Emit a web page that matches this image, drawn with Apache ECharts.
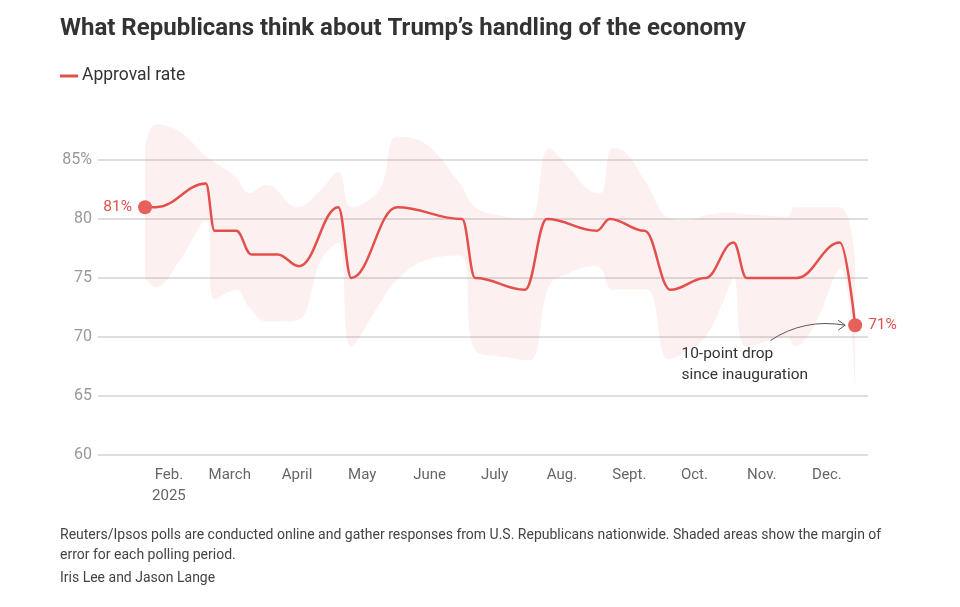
<!DOCTYPE html>
<html>
<head>
<meta charset="utf-8">
<title>Republicans on Trump's handling of the economy</title>
<script src="https://cdn.jsdelivr.net/npm/echarts@6/dist/echarts.min.js"></script>
<style>
  html, body { margin: 0; padding: 0; background: #ffffff; }
  #chart { width: 960px; height: 607px; }
</style>
</head>
<body>
<div id="chart"></div>
<script>
// approval rate, one value per poll
const pollDates = ['2025-01-21', '2025-01-26', '2025-02-18', '2025-02-22', '2025-03-04', '2025-03-11',
  '2025-03-23', '2025-04-02', '2025-04-20', '2025-04-26', '2025-05-17', '2025-06-16',
  '2025-06-22', '2025-07-15', '2025-07-25', '2025-08-17', '2025-08-23', '2025-09-08', '2025-09-20',
  '2025-10-06', '2025-10-19', '2025-10-25', '2025-11-17', '2025-12-07', '2025-12-14']
const approval = [81, 81, 83, 79, 79, 77, 77, 76, 81, 75, 81, 80, 75, 74, 80, 79, 80, 79, 74, 75, 78, 75, 75, 78, 71]

// margin of error band (upper / lower edge)
const bandDates = ['2025-01-21', '2025-01-26', '2025-02-06', '2025-02-18', '2025-02-22', '2025-03-04',
  '2025-03-10', '2025-03-18', '2025-04-01', '2025-04-12', '2025-04-20', '2025-04-26', '2025-05-09',
  '2025-05-17', '2025-05-30', '2025-06-15', '2025-06-22', '2025-07-06', '2025-07-17', '2025-07-26',
  '2025-08-04', '2025-08-15', '2025-08-19', '2025-08-24', '2025-08-29', '2025-09-09', '2025-09-19',
  '2025-09-28', '2025-10-06', '2025-10-14', '2025-10-19', '2025-10-25', '2025-11-13', '2025-11-16',
  '2025-11-25', '2025-12-07', '2025-12-14']
const bandUpper = [86, 88, 87.4, 85.3, 84.8, 83.5, 82.2, 82.9, 81, 82.5, 84, 81, 82.5, 87, 86.4, 83, 81,
  80.2, 80, 86, 84.4, 82.3, 82.2, 86, 85.8, 83, 80.1, 79.9, 80.3, 80.5, 80.5, 80.4, 80.2, 81, 81, 81, 76.6]
const bandLower = [75, 74.2, 76.5, 79.9, 73.2, 74, 72.5, 71.3, 71.4, 76.5, 78, 69.2, 72.8, 74.8, 76.5,
  76.9, 68.9, 68.3, 68, 74.3, 75.4, 76, 75.8, 74, 74, 74, 68.1, 68.9, 70, 72.9, 75, 69.2, 70, 69.2, 70.9,
  75.8, 65.4]

const monthLabels = ['', 'Feb.\n2025', 'March', 'April', 'May', 'June', 'July', 'Aug.', 'Sept.', 'Oct.', 'Nov.', 'Dec.']
const yTicks = [60, 65, 70, 75, 80, 85]

const RED = '#e3504b'
const FONT = 'Roboto, "Noto Sans", sans-serif'

const chart = echarts.init(document.getElementById('chart'))

const lowerData = bandDates.map((d, i) => [d, bandLower[i]])
const spanData = bandDates.map((d, i) => [d, +(bandUpper[i] - bandLower[i]).toFixed(2)])
const lineData = pollDates.map((d, i) => [d, approval[i]])
const last = lineData.length - 1

chart.setOption({
  animation: false,
  textStyle: { fontFamily: FONT },
  title: {
    text: 'What Republicans think about Trump\u2019s handling of the economy',
    left: 60,
    top: 17,
    padding: 0,
    textStyle: { fontSize: 24, fontWeight: 'bold', color: '#333333', fontFamily: FONT },
  },
  legend: {
    data: ['Approval rate'],
    left: 60,
    top: 67,
    padding: 0,
    icon: 'rect',
    itemWidth: 18,
    itemHeight: 3,
    itemGap: 6,
    textStyle: { fontSize: 17.5, color: '#333333', fontFamily: FONT, padding: [0, 0, 0, -1] },
  },
  grid: { left: 98, right: 92, top: 160, bottom: 152 },
  xAxis: {
    type: 'time',
    min: +new Date(2024, 11, 30, 8),
    max: +new Date(2025, 11, 19, 22),
    splitNumber: 12,
    minInterval: 28 * 86400000,
    axisLine: { show: false },
    axisTick: { show: false },
    splitLine: { show: false },
    axisLabel: {
      show: true,
      margin: 10,
      color: '#666666',
      fontSize: 15,
      lineHeight: 21,
      verticalAlign: 'top',
      showMinLabel: false,
      showMaxLabel: false,
      formatter: function (value) {
        const d = new Date(value)
        if (d.getDate() !== 1 || d.getFullYear() !== 2025) return ''
        return monthLabels[d.getMonth()]
      },
    },
  },
  yAxis: {
    type: 'value',
    min: yTicks[0],
    max: yTicks[yTicks.length - 1],
    interval: 5,
    axisLine: { show: false },
    axisTick: { show: false },
    axisLabel: {
      color: '#999999',
      fontSize: 16,
      margin: 6,
      formatter: (v) => (v === 85 ? v + '%' : String(v)),
    },
    splitLine: { lineStyle: { color: '#d3d3d3', width: 1.5 } },
  },
  series: [
    {
      name: 'lower',
      type: 'line',
      stack: 'band',
      data: lowerData,
      smooth: 0.4,
      symbol: 'none',
      lineStyle: { opacity: 0 },
      clip: false,
      silent: true,
      z: 1,
    },
    {
      name: 'margin',
      type: 'line',
      stack: 'band',
      data: spanData,
      smooth: 0.4,
      symbol: 'none',
      lineStyle: { opacity: 0 },
      areaStyle: { color: 'rgba(232, 90, 84, 0.13)' },
      clip: false,
      silent: true,
      z: 1,
    },
    {
      name: 'Approval rate',
      type: 'line',
      data: lineData,
      smooth: 0.4,
      smoothMonotone: 'x',
      symbol: 'none',
      color: RED,
      lineStyle: { color: RED, width: 2.5 },
      z: 3,
    },
    {
      name: 'ends',
      type: 'scatter',
      data: [
        { value: lineData[0], label: { position: 'left' } },
        { value: lineData[last], label: { position: 'right' } },
      ],
      symbolSize: 14,
      itemStyle: { color: '#e8605b', opacity: 1 },
      label: {
        show: true,
        distance: 6,
        color: RED,
        fontSize: 15.5,
        formatter: (p) => p.value[1] + '%',
      },
      z: 4,
    },
  ],
})

// annotation, anchored to data coordinates
const px = (d, v) => chart.convertToPixel({ gridIndex: 0 }, [d, v])
const textPos = px('2025-09-25', 69.4)
const arrowStart = px('2025-11-05', 69.7)
const arrowEnd = px(pollDates[last], approval[last])
const tip = [arrowEnd[0] - 10, arrowEnd[1]]
const ctrl = [(arrowStart[0] + tip[0]) / 2 - 4, tip[1] - 7]

chart.setOption({
  graphic: [
    {
      type: 'text',
      left: textPos[0],
      top: textPos[1],
      style: {
        text: '10-point drop\nsince inauguration',
        fill: '#333333',
        font: '15.5px ' + FONT,
        lineHeight: 21,
      },
    },
    {
      type: 'bezierCurve',
      shape: { x1: arrowStart[0], y1: arrowStart[1], cpx1: ctrl[0], cpy1: ctrl[1], x2: tip[0], y2: tip[1] },
      style: { stroke: '#555555', lineWidth: 1, fill: null },
    },
    {
      type: 'polyline',
      shape: { points: [[tip[0] - 7, tip[1] - 5], tip, [tip[0] - 7, tip[1] + 5]] },
      style: { stroke: '#555555', lineWidth: 1, fill: null },
    },
    {
      type: 'text',
      left: 60,
      top: 525,
      style: {
        text: 'Reuters/Ipsos polls are conducted online and gather responses from U.S. Republicans nationwide. Shaded areas show the margin of\nerror for each polling period.',
        fill: '#444444',
        font: '14px ' + FONT,
        lineHeight: 20,
      },
    },
    {
      type: 'text',
      left: 60,
      top: 571,
      style: { text: 'Iris Lee and Jason Lange', fill: '#444444', font: '14px ' + FONT },
    },
  ],
})
</script>
</body>
</html>
